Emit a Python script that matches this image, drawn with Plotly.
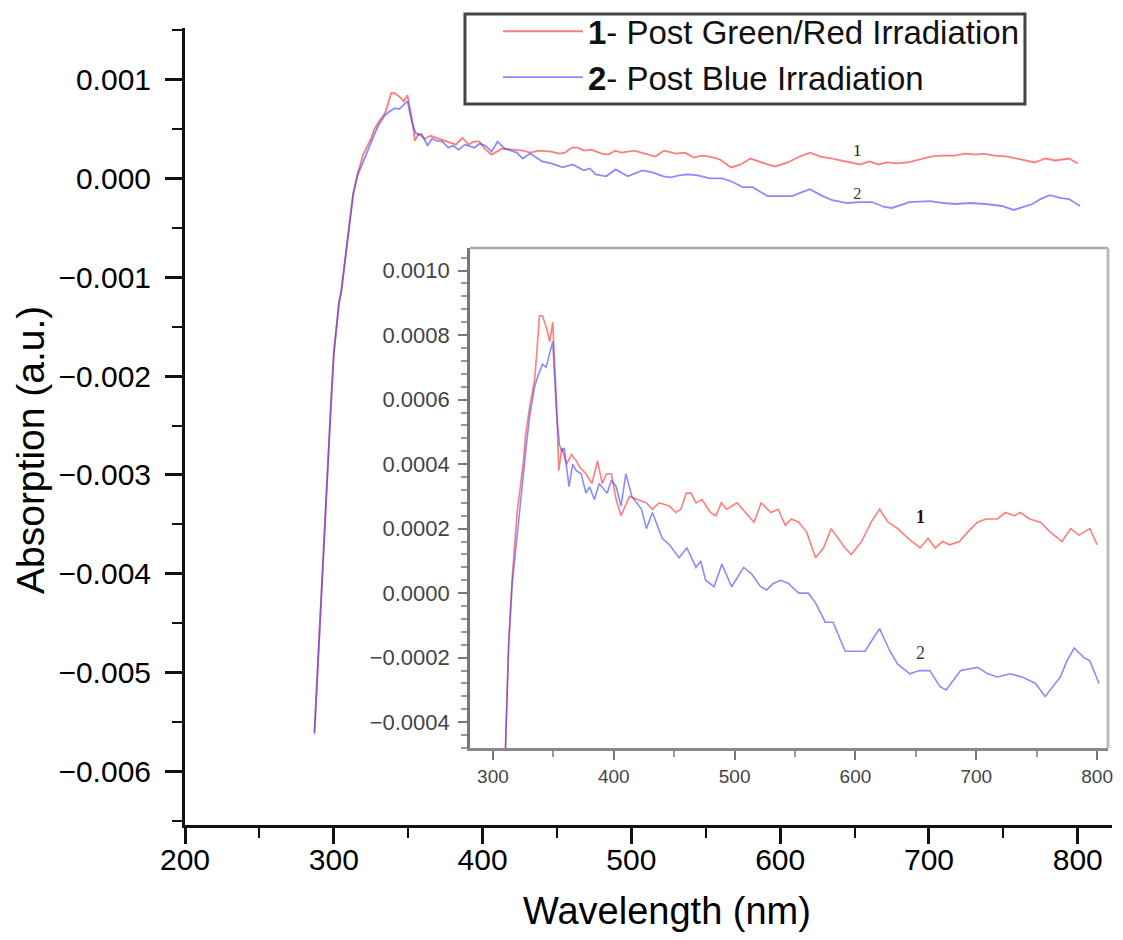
import plotly.graph_objects as go

# ---- data ----
wl_red = [287, 290, 293, 295, 298, 300, 303.5, 305, 309.5, 313, 316, 320, 325, 327, 330.5, 334.5,
          336, 338.5, 341, 344.5, 347, 349.5, 352.5, 354.5, 357, 361, 365, 369, 372, 377, 382,
          386.5, 390.5, 394, 398, 402, 406, 413, 419.5, 427, 432, 437.5, 446, 451.5, 455.5, 460,
          464, 468, 473, 480, 484.5, 489, 493.5, 502, 509, 516, 522, 530, 536, 542, 547, 553,
          559.5, 567, 573.5, 580, 591.5, 596.5, 605, 613, 620, 627, 635, 643.5, 653.5, 660, 666,
          672, 678, 686, 693, 701, 708, 717.5, 724, 731.5, 736.5, 744, 753, 761, 771, 778, 785,
          794, 800]
abs_red = [-0.00560, -0.00466, -0.00383, -0.00321, -0.00230, -0.00176, -0.00125, -0.00114,
           -0.00056, -0.00015, 0.00005, 0.00025, 0.00040, 0.00049, 0.00058, 0.00066, 0.00073,
           0.00086, 0.00086, 0.00082, 0.00078, 0.00084, 0.00060, 0.00038, 0.00045, 0.00040,
           0.00043, 0.00041, 0.00039, 0.00037, 0.00034, 0.00041, 0.00034, 0.00037, 0.00037,
           0.00029, 0.00024, 0.00030, 0.00029, 0.00028, 0.00026, 0.00028, 0.00027, 0.00025,
           0.00026, 0.00031, 0.00031, 0.00028, 0.00029, 0.00025, 0.00024, 0.00028, 0.00026,
           0.00028, 0.00025, 0.00022, 0.00028, 0.00025, 0.00026, 0.00021, 0.00023, 0.00022,
           0.00019, 0.00011, 0.00014, 0.00020, 0.00014, 0.00012, 0.00016, 0.00022, 0.00026,
           0.00022, 0.00020, 0.00017, 0.00014, 0.00017, 0.00014, 0.00016, 0.00015, 0.00016,
           0.00019, 0.00022, 0.00023, 0.00023, 0.00025, 0.00024, 0.00025, 0.00023, 0.00022,
           0.00019, 0.00016, 0.00020, 0.00018, 0.00020, 0.00015]

wl_blue = [287, 290, 293, 295, 298, 300, 303.5, 305, 309.5, 313, 316, 320.5, 324, 328, 330.5,
           334.5, 337, 341, 344, 347, 349.5, 352.5, 355, 357, 359, 363, 366, 369, 373, 377, 380,
           384, 388, 394.5, 398, 402, 406, 410, 415, 423, 427, 432, 440, 446, 454, 460.5, 468,
           472, 476, 483, 489.5, 497.5, 507.5, 514, 521.5, 526.5, 532, 538, 544.5, 553, 561, 567,
           575, 581.5, 591.5, 600, 608, 613, 620, 628.5, 635, 645, 653, 661.5, 670, 675, 687,
           701, 709.5, 717.5, 728, 738, 749, 757, 769.5, 775, 781, 789, 794, 801.5]
abs_blue = [-0.00562, -0.00468, -0.00385, -0.00323, -0.00232, -0.00178, -0.00127, -0.00115,
            -0.00058, -0.00017, 0.00003, 0.00020, 0.00033, 0.00047, 0.00055, 0.00064, 0.00067,
            0.00071, 0.00070, 0.00074, 0.00078, 0.00057, 0.00046, 0.00044, 0.00045, 0.00033,
            0.00040, 0.00038, 0.00037, 0.00031, 0.00033, 0.00029, 0.00034, 0.00031, 0.00035,
            0.00033, 0.00027, 0.00037, 0.00030, 0.00026, 0.00020, 0.00025, 0.00017, 0.00015,
            0.00011, 0.00014, 0.00008, 0.00010, 0.00004, 0.00002, 0.00009, 0.00002, 0.00008,
            0.00006, 0.00002, 0.00001, 0.00003, 0.00004, 0.00003, 0.00000, 0.00000, -0.00003,
            -0.00009, -0.00009, -0.00018, -0.00018, -0.00018, -0.00015, -0.00011, -0.00018,
            -0.00022, -0.00025, -0.00024, -0.00024, -0.00029, -0.00030, -0.00024, -0.00023,
            -0.00025, -0.00026, -0.00025, -0.00026, -0.00028, -0.00032, -0.00026, -0.00021,
            -0.00017, -0.00020, -0.00021, -0.00028]

series_names = ["<b>1</b>- Post Green/Red Irradiation", "<b>2</b>- Post Blue Irradiation"]
curve_labels = ["1", "2"]
x_title = "Wavelength (nm)"
y_title = "Absorption (a.u.)"
main_x_ticks = [200, 300, 400, 500, 600, 700, 800]
main_y_ticks = [-0.006, -0.005, -0.004, -0.003, -0.002, -0.001, 0.000, 0.001]
inset_x_ticks = [300, 400, 500, 600, 700, 800]
inset_y_ticks = [-0.0004, -0.0002, 0.0, 0.0002, 0.0004, 0.0006, 0.0008, 0.0010]

RED = "rgba(255,45,45,0.62)"
BLUE = "rgba(55,55,255,0.58)"
FONT = "Liberation Sans, Arial, sans-serif"

# inset placement (paper fractions)
INS_X = [0.3074, 0.9957]
INS_Y = [0.0966, 0.724]

fig = go.Figure()
fig.add_trace(go.Scatter(x=wl_red, y=abs_red, mode="lines", name=series_names[0],
                         line=dict(color=RED, width=1.8)))
fig.add_trace(go.Scatter(x=wl_blue, y=abs_blue, mode="lines", name=series_names[1],
                         line=dict(color=BLUE, width=1.8)))
fig.add_trace(go.Scatter(x=wl_red, y=abs_red, mode="lines", showlegend=False,
                         xaxis="x2", yaxis="y2", line=dict(color=RED, width=1.6)))
fig.add_trace(go.Scatter(x=wl_blue, y=abs_blue, mode="lines", showlegend=False,
                         xaxis="x2", yaxis="y2", line=dict(color=BLUE, width=1.6)))

fig.update_layout(
    width=1107, height=924,
    margin=dict(l=177, r=3, t=20, b=107, autoexpand=False),
    paper_bgcolor="white", plot_bgcolor="white",
    font=dict(family=FONT, color="#111"),
    xaxis=dict(range=[200, 823], domain=[0, 1], tickvals=main_x_ticks,
               showline=True, linecolor="#111", linewidth=3, mirror=False,
               ticks="outside", ticklen=16, tickwidth=3, tickcolor="#111",
               minor=dict(dtick=50, tick0=200, ticks="outside", ticklen=10, tickwidth=2, tickcolor="#111"),
               showgrid=False, zeroline=False, ticklabelstandoff=-10,
               tickfont=dict(size=30, color="#000"), automargin=False),
    yaxis=dict(range=[-0.00654, 0.00152], domain=[0, 1], tickvals=main_y_ticks, tickformat=".3f",
               showline=True, linecolor="#111", linewidth=3, mirror=False,
               ticks="outside", ticklen=17, tickwidth=3, tickcolor="#111",
               minor=dict(dtick=0.0005, tick0=0, ticks="outside", ticklen=10, tickwidth=2, tickcolor="#111"),
               showgrid=False, zeroline=False, ticklabelstandoff=8,
               tickfont=dict(size=30, color="#000"), automargin=False),
    xaxis2=dict(range=[281, 809], domain=INS_X, anchor="y2", tickvals=inset_x_ticks,
                showline=True, linecolor="#888", linewidth=2.5, mirror=False,
                ticks="outside", ticklen=9, tickwidth=2, tickcolor="#777",
                minor=dict(dtick=50, tick0=300, ticks="outside", ticklen=6, tickwidth=2, tickcolor="#999"),
                showgrid=False, zeroline=False, automargin=False,
                tickfont=dict(size=19, color="#444")),
    yaxis2=dict(range=[-0.00048, 0.00107], domain=INS_Y, anchor="x2",
                tickvals=inset_y_ticks, tickformat=".4f",
                showline=True, linecolor="#777", linewidth=2.5, mirror=False,
                ticks="outside", ticklen=9, tickwidth=2, tickcolor="#777",
                minor=dict(dtick=0.00004, tick0=0, ticks="outside", ticklen=6, tickwidth=2, tickcolor="#999"),
                showgrid=False, zeroline=False, ticklabelstandoff=4, automargin=False,
                tickfont=dict(size=22, color="#444")),
    legend=dict(x=0.3376, y=1.031, xanchor="left", yanchor="top",
                bgcolor="rgba(0,0,0,0)", borderwidth=0,
                font=dict(size=33, color="#111"), itemwidth=80,
                tracegroupgap=0),
    showlegend=True,
)

# legend frame
fig.add_shape(type="rect", xref="paper", yref="paper", x0=0.3020, x1=0.9061, y0=0.9046, y1=1.0176,
              line=dict(color="#444", width=3), fillcolor="rgba(0,0,0,0)", layer="below")
# inset frame: top and right borders
fig.add_shape(type="line", xref="paper", yref="paper", x0=INS_X[0], x1=INS_X[1], y0=INS_Y[1], y1=INS_Y[1],
              line=dict(color="#aaa", width=2.5))
fig.add_shape(type="line", xref="paper", yref="paper", x0=INS_X[1], x1=INS_X[1], y0=INS_Y[0], y1=INS_Y[1],
              line=dict(color="#bbb", width=3))

# axis titles
fig.add_annotation(x=0.52, y=-0.108, xref="paper", yref="paper", text=x_title, showarrow=False,
                   xanchor="center", yanchor="middle", font=dict(size=38, color="#000"))
fig.add_annotation(x=-0.1672, y=0.4705, xref="paper", yref="paper", text=y_title, showarrow=False,
                   textangle=-90, xanchor="center", yanchor="middle", font=dict(size=39, color="#000"))

# curve labels
fig.add_annotation(x=652, y=0.00028, xref="x", yref="y", text=curve_labels[0], showarrow=False,
                   font=dict(family="Liberation Serif, serif", size=17, color="#222"))
fig.add_annotation(x=652, y=-0.00015, xref="x", yref="y", text=curve_labels[1], showarrow=False,
                   font=dict(family="Liberation Serif, serif", size=17, color="#444"))
fig.add_annotation(x=654, y=0.000236, xref="x2", yref="y2", text="<b>" + curve_labels[0] + "</b>",
                   showarrow=False, font=dict(family="Liberation Serif, serif", size=18, color="#301"))
fig.add_annotation(x=654, y=-0.000186, xref="x2", yref="y2", text=curve_labels[1], showarrow=False,
                   font=dict(family="Liberation Serif, serif", size=18, color="#444"))

fig.write_html("out.html")
